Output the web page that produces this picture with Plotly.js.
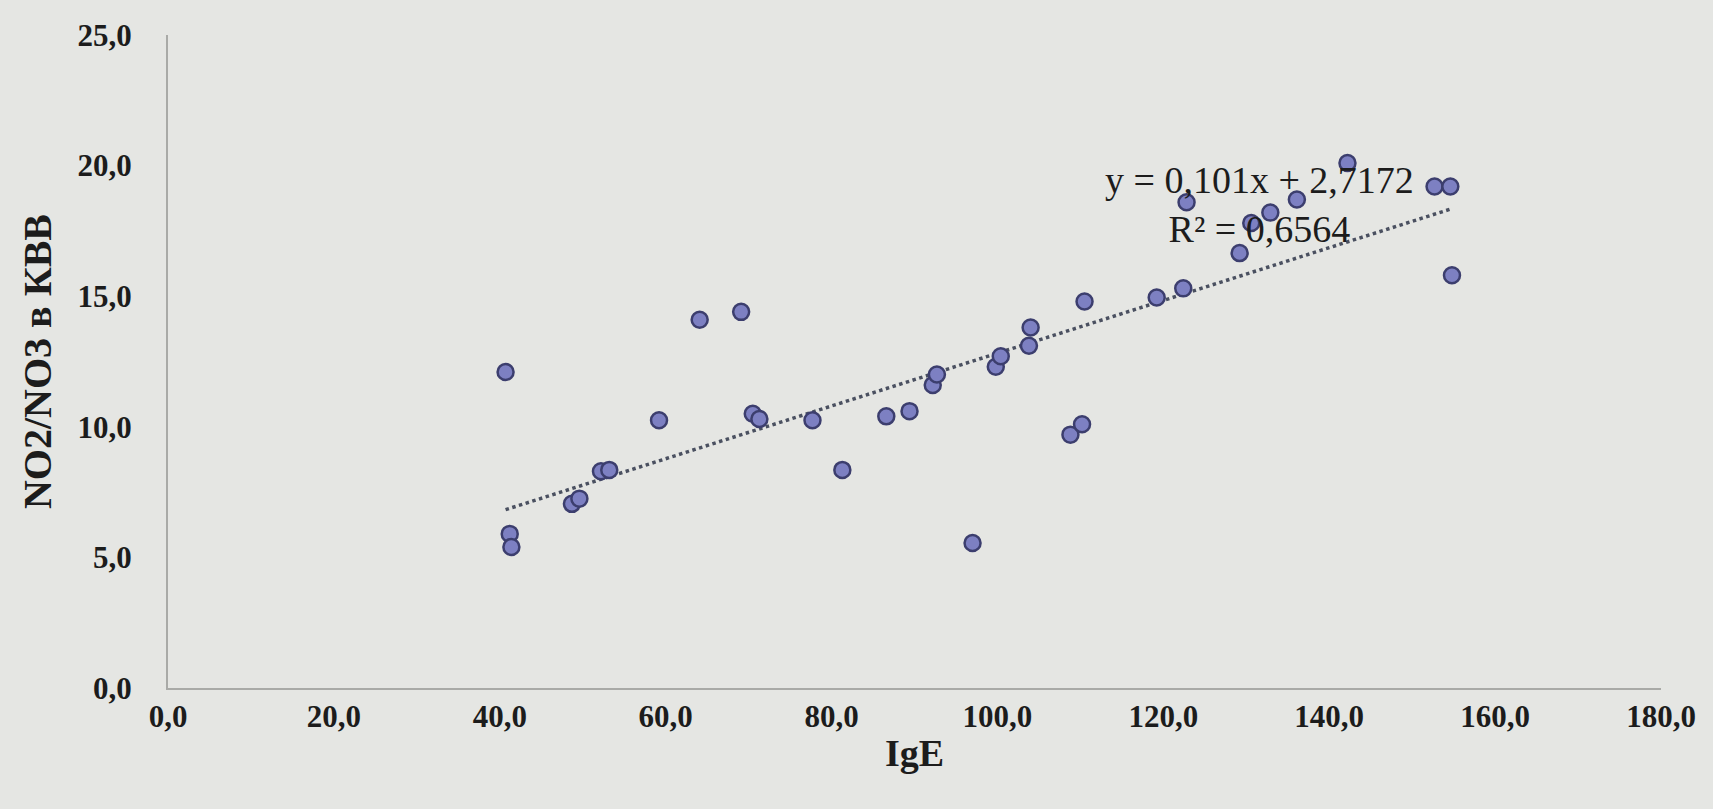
<!DOCTYPE html>
<html>
<head>
<meta charset="utf-8">
<script src="https://cdn.plot.ly/plotly-3.0.1.min.js"></script>
<style>
  html, body { margin: 0; padding: 0; background: #e5e6e3; }
  #chart { width: 1713px; height: 809px; }
</style>
</head>
<body>
<div id="chart"></div>
<script>
// IgE values (x)
const igE = [40.7, 41.2, 41.4, 48.7, 49.6, 52.2, 53.2, 59.2, 64.1, 69.1, 70.5, 71.3,
             77.7, 81.3, 86.6, 89.4, 92.2, 92.7, 97.0, 99.8, 100.4, 103.8, 104.0,
             108.8, 110.2, 110.5, 119.2, 122.4, 122.8, 129.2, 130.6, 132.9, 136.1,
             142.2, 152.7, 154.6, 154.8];
// NO2/NO3 в КВВ values (y)
const no2no3 = [12.1, 5.9, 5.4, 7.05, 7.25, 8.3, 8.35, 10.25, 14.1, 14.4, 10.5, 10.3,
                10.25, 8.35, 10.4, 10.6, 11.6, 12.0, 5.55, 12.3, 12.7, 13.1, 13.8,
                9.7, 10.1, 14.8, 14.95, 15.3, 18.6, 16.65, 17.8, 18.2, 18.7,
                20.1, 19.2, 19.2, 15.8];
// Linear trend as printed on the chart
const slope = 0.101;
const intercept = 2.7172;
const equationText = "y = 0,101x + 2,7172";
const r2Text = "R² = 0,6564";
const xTitle = "IgE";
const yTitle = "NO2/NO3 в КВВ";

const xMin = Math.min(...igE), xMax = Math.max(...igE);
const trendX = [xMin, xMax];
const trendY = trendX.map(v => slope * v + intercept);

const font = "'Liberation Serif', 'Times New Roman', serif";
const ink = '#1c1c1c';

const traces = [
  {
    x: trendX, y: trendY, type: 'scatter', mode: 'lines',
    line: { color: '#4a5060', width: 3.5, dash: 'dot' },
    hoverinfo: 'skip', showlegend: false
  },
  {
    x: igE, y: no2no3, type: 'scatter', mode: 'markers',
    marker: { symbol: 'circle', size: 16, color: '#7d80c2',
              line: { color: '#3c3e6e', width: 2.5 } },
    showlegend: false
  }
];

const layout = {
  width: 1713, height: 809,
  paper_bgcolor: '#e5e6e3', plot_bgcolor: '#e5e6e3',
  separators: ', ',
  margin: { l: 168, r: 52, t: 35, b: 121 },
  font: { family: font, color: ink },
  xaxis: {
    range: [0, 180], dtick: 20, tick0: 0, tickformat: '.1f',
    showgrid: false, zeroline: false,
    showline: true, linecolor: '#a9aaa7', linewidth: 2,
    ticks: '', ticklabelstandoff: 0,
    tickfont: { family: font, size: 31, color: ink, weight: 'bold' },
    title: { text: xTitle, standoff: 6,
             font: { family: font, size: 38, color: ink, weight: 'bold' } }
  },
  yaxis: {
    range: [0, 25], dtick: 5, tick0: 0, tickformat: '.1f',
    showgrid: false, zeroline: false,
    showline: true, linecolor: '#a9aaa7', linewidth: 2,
    ticks: '', ticklabelstandoff: 28,
    tickfont: { family: font, size: 31, color: ink, weight: 'bold' },
    title: { text: yTitle, standoff: 14,
             font: { family: font, size: 40, color: ink, weight: 'bold' } }
  },
  annotations: [
    {
      x: 131.6, y: 18.5, xref: 'x', yref: 'y', showarrow: false,
      text: equationText + '<br>' + r2Text, align: 'center',
      font: { family: font, size: 38, color: ink }
    }
  ]
};

Plotly.newPlot('chart', traces, layout, { displayModeBar: false, staticPlot: true });
</script>
</body>
</html>
